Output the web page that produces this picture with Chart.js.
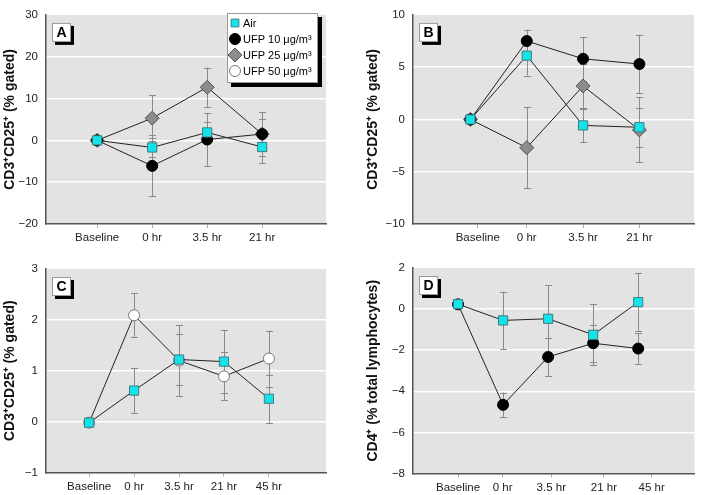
<!DOCTYPE html>
<html>
<head>
<meta charset="utf-8">
<script src="https://cdn.jsdelivr.net/npm/chart.js@4.4.1/dist/chart.umd.min.js"></script>
<style>
  body { margin: 0; background: #fff; width: 702px; height: 495px; position: relative; overflow: hidden; }
  canvas { position: absolute; }
</style>
</head>
<body>
<canvas id="cA" width="351" height="245" style="left:0;top:0"></canvas>
<canvas id="cB" width="351" height="245" style="left:351px;top:0"></canvas>
<canvas id="cC" width="351" height="250" style="left:0;top:245px"></canvas>
<canvas id="cD" width="351" height="250" style="left:351px;top:245px"></canvas>
<script>
// time points
const labelsAB = ['Baseline', '0 hr', '3.5 hr', '21 hr'];
const labelsCD = ['Baseline', '0 hr', '3.5 hr', '21 hr', '45 hr'];

// panel A - CD3+CD25+ (% gated)
const airA = [0, -1.7, 1.9, -1.6];
const airA_sd = [0.4, 2.3, 2.6, 3.9];
const ufp10A = [0, -6.1, 0.2, 1.5];
const ufp10A_sd = [0.4, 7.3, 6.3, 5.3];
const ufp25A = [0, 5.3, 12.7, 1.5];
const ufp25A_sd = [0.4, 5.5, 4.7, 3.7];

// panel B - CD3+CD25+ (% gated)
const airB = [0, 6.1, -0.57, -0.75];
const airB_sd = [0.2, 1.9, 1.6, 1.85];
const ufp10B = [0, 7.5, 5.8, 5.3];
const ufp10B_sd = [0.2, 1.1, 2.1, 2.8];
const ufp25B = [0, -2.7, 3.2, -1.0];
const ufp25B_sd = [0.2, 3.9, 2.1, 3.1];

// panel C - CD3+CD25+ (% gated)
const airC = [-0.02, 0.61, 1.22, 1.18, 0.45];
const airC_sd = [0.02, 0.45, 0.5, 0.62, 0.47];
const ufp50C = [-0.02, 2.09, 1.2, 0.89, 1.24];
const ufp50C_sd = [0.02, 0.43, 0.7, 0.47, 0.55];

// panel D - CD4+ (% total lymphocytes)
const airD = [0.24, -0.55, -0.47, -1.25, 0.34];
const airD_sd = [0.05, 1.4, 1.63, 1.48, 1.4];
const ufp10D = [0.23, -4.66, -2.33, -1.66, -1.92];
const ufp10D_sd = [0.05, 0.6, 0.93, 0.9, 0.77];

const legendNames = ['Air', 'UFP 10 \u03bcg/m\u00b3', 'UFP 25 \u03bcg/m\u00b3', 'UFP 50 \u03bcg/m\u00b3'];

const FONT = "'Liberation Sans', Arial, sans-serif";
const STYLE = {
  air:   { pointStyle: 'rect',    radius: 6.5, bg: '#14e3ea', border: '#3d7d82' },
  ufp10: { pointStyle: 'circle',  radius: 5.5, bg: '#000000', border: '#000000' },
  ufp25: { pointStyle: 'rectRot', radius: 7,   bg: '#8c8c8c', border: '#555555' },
  ufp50: { pointStyle: 'circle',  radius: 5.5, bg: '#ffffff', border: '#777777' }
};

// grey plot background
const panelBg = {
  id: 'panelBg',
  beforeDraw(chart) {
    const { ctx, chartArea: a } = chart;
    ctx.save();
    ctx.fillStyle = '#e3e3e3';
    ctx.fillRect(a.left, a.top, a.right - a.left, a.bottom - a.top);
    ctx.restore();
  }
};

// error bars with caps
const errorBars = {
  id: 'errorBars',
  beforeDatasetsDraw(chart) {
    const { ctx } = chart;
    const xs = chart.scales.x, ys = chart.scales.y;
    ctx.save();
    ctx.strokeStyle = '#8a8a8a';
    ctx.lineWidth = 1;
    chart.data.datasets.forEach(ds => {
      ds.data.forEach((p, j) => {
        const sd = ds.sd[j];
        const x = Math.round(xs.getPixelForValue(p.x)) + 0.5;
        const y1 = ys.getPixelForValue(p.y + sd);
        const y2 = ys.getPixelForValue(p.y - sd);
        ctx.beginPath();
        ctx.moveTo(x, y1); ctx.lineTo(x, y2);
        ctx.moveTo(x - 3.5, Math.round(y1) + 0.5); ctx.lineTo(x + 3.5, Math.round(y1) + 0.5);
        ctx.moveTo(x - 3.5, Math.round(y2) + 0.5); ctx.lineTo(x + 3.5, Math.round(y2) + 0.5);
        ctx.stroke();
      });
    });
    ctx.restore();
  }
};

function shadowBox(ctx, x, y, w, h, off) {
  ctx.fillStyle = '#000';
  ctx.fillRect(x + off, y + off, w, h);
  ctx.fillStyle = '#fff';
  ctx.fillRect(x, y, w, h);
  ctx.strokeStyle = '#999';
  ctx.lineWidth = 1;
  ctx.strokeRect(x + 0.5, y + 0.5, w - 1, h - 1);
}

// panel letter + optional legend
const decorations = {
  id: 'decorations',
  afterDraw(chart, args, opts) {
    const { ctx, chartArea: a } = chart;
    ctx.save();
    const bx = a.left + 6, by = a.top + 8;
    shadowBox(ctx, bx, by, 19, 19, 3);
    ctx.fillStyle = '#000';
    ctx.font = 'bold 14px ' + FONT;
    ctx.textAlign = 'center';
    ctx.textBaseline = 'middle';
    ctx.fillText(opts.letter, bx + 9.5, by + 10);
    if (opts.legend) {
      const lx = 227, ly = 13, lw = 91, lh = 70;
      shadowBox(ctx, lx, ly, lw, lh, 4);
      const keys = ['air', 'ufp10', 'ufp25', 'ufp50'];
      ctx.font = '11px ' + FONT;
      ctx.textAlign = 'left';
      keys.forEach((k, i) => {
        const s = STYLE[k];
        const cy = ly + 10 + i * 16;
        ctx.fillStyle = s.bg;
        ctx.strokeStyle = s.border;
        ctx.lineWidth = 1;
        Chart.helpers.drawPoint(ctx, {
          pointStyle: s.pointStyle, radius: k === 'air' ? 5.5 : s.radius, rotation: 0, borderWidth: 1
        }, lx + 8, cy);
        ctx.fillStyle = '#000';
        ctx.fillText(legendNames[i], lx + 16, cy + 1);
      });
    }
    ctx.restore();
  }
};

function minus(v) {
  return v < 0 ? '\u2212' + Math.abs(v) : String(v);
}

function makePanel(id, p) {
  const datasets = p.series.map(s => {
    const st = STYLE[s.key];
    return {
      data: s.values.map((v, i) => ({ x: i, y: v })),
      sd: s.sd,
      borderColor: '#222',
      borderWidth: 1,
      tension: 0,
      pointStyle: st.pointStyle,
      pointRadius: st.radius,
      pointBackgroundColor: st.bg,
      pointBorderColor: st.border,
      pointBorderWidth: 1
    };
  });
  new Chart(document.getElementById(id), {
    type: 'line',
    data: { datasets },
    options: {
      responsive: false,
      animation: false,
      events: [],
      layout: { padding: { top: p.top, right: p.right, left: 0, bottom: 0 } },
      plugins: {
        legend: { display: false },
        tooltip: { enabled: false },
        decorations: { letter: p.letter, legend: p.legend }
      },
      scales: {
        x: {
          type: 'linear',
          min: p.xMin, max: p.xMax,
          afterBuildTicks: sc => { sc.ticks = p.tickPos.map(v => ({ value: v })); },
          afterFit: sc => { sc.height = p.xHeight; },
          ticks: {
            autoSkip: false, maxRotation: 0, padding: 3,
            font: { family: FONT, size: 11.5 }, color: '#222',
            callback: (v, i) => p.labels[i]
          },
          grid: { drawOnChartArea: false, drawTicks: true, tickLength: 4, color: '#aaa' },
          border: { display: true, color: '#555', width: 1.5 }
        },
        y: {
          min: p.yMin, max: p.yMax,
          afterFit: sc => { sc.width = p.yWidth; },
          ticks: {
            stepSize: p.step, padding: 8,
            font: { family: FONT, size: 11.5 }, color: '#222',
            callback: v => minus(v)
          },
          grid: {
            drawTicks: false, lineWidth: 1.5,
            color: c => (c.tick.value === p.yMin || c.tick.value === p.yMax) ? 'rgba(0,0,0,0)' : '#ffffff'
          },
          border: { display: true, color: '#555', width: 1.5 },
          title: {
            display: true, text: p.yTitle, color: '#111',
            font: { family: FONT, size: 14, weight: 'bold' },
            padding: { top: p.titlePad, bottom: 0 }
          }
        }
      }
    },
    plugins: [panelBg, errorBars, decorations]
  });
}

makePanel('cA', {
  letter: 'A', legend: true, labels: labelsAB,
  series: [
    { key: 'air', values: airA, sd: airA_sd },
    { key: 'ufp10', values: ufp10A, sd: ufp10A_sd },
    { key: 'ufp25', values: ufp25A, sd: ufp25A_sd }
  ],
  yMin: -20, yMax: 30, step: 10, yTitle: 'CD3\u207aCD25\u207a (% gated)',
  xMin: -0.93, xMax: 4.16, tickPos: [0, 1, 2, 3],
  top: 8, right: 25, yWidth: 46, xHeight: 21, titlePad: 2
});

makePanel('cB', {
  letter: 'B', legend: false, labels: labelsAB,
  series: [
    { key: 'air', values: airB, sd: airB_sd },
    { key: 'ufp10', values: ufp10B, sd: ufp10B_sd },
    { key: 'ufp25', values: ufp25B, sd: ufp25B_sd }
  ],
  yMin: -10, yMax: 10, step: 5, yTitle: 'CD3\u207aCD25\u207a (% gated)',
  xMin: -1.02, xMax: 3.97, tickPos: [0.13, 1, 2, 3],
  top: 8, right: 0, yWidth: 62, xHeight: 21, titlePad: 14
});

makePanel('cC', {
  letter: 'C', legend: false, labels: labelsCD,
  series: [
    { key: 'air', values: airC, sd: airC_sd },
    { key: 'ufp50', values: ufp50C, sd: ufp50C_sd }
  ],
  yMin: -1, yMax: 3, step: 1, yTitle: 'CD3\u207aCD25\u207a (% gated)',
  xMin: -0.96, xMax: 5.27, tickPos: [0, 1, 2, 3, 4],
  top: 24, right: 25, yWidth: 46, xHeight: 22.5, titlePad: 2
});

makePanel('cD', {
  letter: 'D', legend: false, labels: labelsCD,
  series: [
    { key: 'air', values: airD, sd: airD_sd },
    { key: 'ufp10', values: ufp10D, sd: ufp10D_sd }
  ],
  yMin: -8, yMax: 2, step: 2, yTitle: 'CD4\u207a (% total lymphocytes)',
  xMin: -1.0, xMax: 5.25, tickPos: [0, 0.99, 2.07, 3.24, 4.3],
  top: 23, right: 0, yWidth: 62, xHeight: 21.5, titlePad: 14
});
</script>
</body>
</html>
